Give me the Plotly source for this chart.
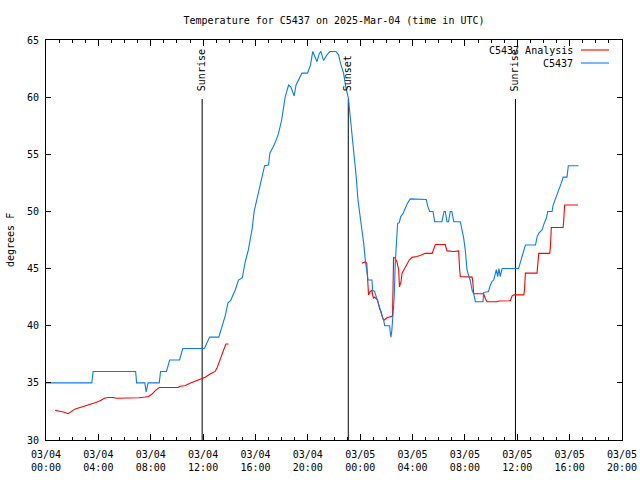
import plotly.graph_objects as go
import pandas as pd

BASE = pd.Timestamp("2025-03-04 00:00")

# C5437 observations: hours since 2025-03-04 00:00 UTC, temperature (F)
obs_hours = [0.0, 3.5, 3.6, 6.85, 6.92, 7.55, 7.65, 7.8, 8.65, 8.75, 9.2, 9.45, 10.2, 10.45, 12.1,
             12.5, 13.2, 13.7, 13.9, 14.1, 14.45, 14.7, 15.0, 15.2, 15.45, 15.6, 15.75, 15.9, 16.1,
             16.3, 16.5, 16.7, 17.0, 17.1, 17.33, 17.5, 17.76, 18.0, 18.27, 18.53, 18.7, 18.96,
             19.1, 19.3, 19.55, 19.98, 20.2, 20.38, 20.55, 20.7, 20.87, 21.0, 21.2, 21.46, 21.7,
             22.15, 22.35, 22.5, 22.73, 22.9, 23.1, 23.24, 23.32, 23.42, 23.5, 23.6, 23.7, 23.83,
             23.96, 24.1, 24.18, 24.27, 24.39, 24.52, 24.6, 24.9, 24.95, 25.1, 25.28, 25.4, 25.54,
             25.65, 25.79, 25.87, 26.25, 26.3, 26.35, 26.42, 26.5, 26.6, 26.68, 26.78, 26.86, 26.98,
             27.1, 27.27, 27.45, 27.6, 27.83, 29.05, 29.15, 29.3, 29.56, 29.69, 30.25, 30.4, 30.5,
             30.63, 30.75, 30.88, 31.0, 31.15, 31.65, 31.78, 31.9, 32.03, 32.1, 32.16, 32.28, 32.4,
             32.55, 32.67, 32.8, 33.38, 33.43, 33.8, 33.9, 34.05, 34.2, 34.4, 34.5, 34.6, 34.7,
             34.84, 36.1, 36.25, 36.37, 36.5, 36.62, 37.39, 37.52, 37.65, 37.9, 38.07, 38.22, 38.33,
             38.66, 38.74, 38.91, 39.04, 39.17, 39.35, 39.43, 39.5, 39.8, 39.9, 40.67]
obs_temp = [35, 35, 36, 36, 35, 35, 34.2, 35, 35, 36, 36, 37, 37, 38, 38,
            39, 39, 40.9, 42, 42.2, 43.1, 44, 44.2, 45.5, 46.6, 47.5, 48.5, 50, 51,
            52, 52.75, 54, 54.06, 55.1, 55.6, 56, 56.8, 58, 60, 61.06, 60.9, 60.1,
            61.06, 61.5, 62.1, 62.1, 62.8, 64, 63.5, 63.1, 63.8, 64, 63.2, 63.7, 64,
            64, 63.7, 62.95, 62.1, 60.9, 59.9, 58.3, 57.2, 56.3, 55.4, 54.3, 53, 51,
            49.8, 49, 48.1, 47.2, 45.75, 44.9, 44, 44, 43.1, 43, 42.4, 41.8, 41.4,
            40.9, 40.5, 40, 40, 39.4, 39, 39.6, 41.1, 42.5, 45.5, 47.5, 48.96, 49,
            49.55, 49.8, 50.4, 50.7, 51.1, 51.05, 50.5, 50, 50, 49.1, 49.1, 50, 50,
            49.1, 49.1, 50, 50, 49.1, 49.1, 48.5, 47.7, 46.6, 45.75, 44.9, 44.4, 44,
            43.1, 42.8, 42.1, 42.1, 42.9, 43, 43.4, 43.85, 44, 44.9, 44.3, 45, 44.3,
            45, 45, 45.6, 46, 46.5, 47.06, 47.06, 47.8, 48.1, 48.4, 49, 49.4, 50,
            50, 50.56, 51.06, 51.4, 51.9, 52.3, 52.7, 53, 53, 54, 54]

# C5437 Analysis (None = gap)
ana_hours = [0.69, 1.0, 1.33, 1.7, 1.95, 2.2, 2.6, 2.98, 3.36, 3.75, 4.13, 4.5, 4.77, 5.15, 5.4,
             6.93, 7.1, 7.57, 7.82, 8.08, 8.33, 8.66, 10.1, 10.24, 10.6, 11.0, 11.4, 11.9, 12.16,
             12.54, 12.92, 13.05, 13.3, 13.55, 13.74, 13.94, None,
             24.14, 24.39, 24.5, 24.57, 24.64, 24.77, 24.9, 24.95, 25.02, 25.1, 25.2, 25.33, 25.48,
             25.6, 25.74, 25.84, 26.05, 26.47, 26.55, 26.68, 26.8, 26.94, 27.0, 27.12, 27.2, 27.37,
             27.57, 27.75, 27.96, 28.34, 28.72, 28.97, 29.5, 29.61, 29.74, 30.5, 30.63, 31.14,
             31.52, 31.6, 31.65, 32.55, 32.6, 32.67, 33.43, 33.55, 33.69, 34.45, 34.6, 35.47, 35.6,
             35.75, 36.5, 36.55, 36.62, 37.51, 37.56, 37.64, 38.48, 38.53, 38.6, 39.5, 39.55,
             39.62, 40.65]
ana_temp = [32.6, 32.55, 32.45, 32.3, 32.5, 32.7, 32.85, 32.97, 33.15, 33.26, 33.44, 33.67, 33.72, 33.72, 33.65,
            33.65, 33.7, 33.76, 33.8, 34.0, 34.3, 34.6, 34.6, 34.7, 34.75, 34.96, 35.16, 35.34, 35.5,
            35.77, 36.0, 36.27, 37.0, 37.87, 38.4, 38.4, None,
            45.46, 45.6, 45.46, 44.3, 42.7, 43.0, 43.1, 42.7, 42.4, 42.5, 42.4, 42.25, 41.5,
            41.2, 40.6, 40.5, 40.7, 40.85, 46.0, 45.9, 45.6, 44.9, 43.4, 43.85, 44.6, 45.0,
            45.46, 45.75, 45.98, 46.05, 46.2, 46.33, 46.33, 46.77, 47.1, 47.1, 46.55, 46.5,
            46.55, 44.9, 44.3, 44.25, 43.85, 42.8, 42.8, 42.4, 42.1, 42.1, 42.16, 42.19, 42.6,
            42.7, 42.7, 43.1, 44.6, 44.6, 45.16, 46.33, 46.33, 46.9, 48.6, 48.6, 49.25,
            50.56, 50.56]

# Sun events (hours since base)
event_hours = [11.93, 23.09, 35.86]
event_names = ["Sunrise", "Sunset", "Sunrise"]

tick_hours = [0, 4, 8, 12, 16, 20, 24, 28, 32, 36, 40, 44]
tick_labels = ["03/04<br>00:00", "03/04<br>04:00", "03/04<br>08:00", "03/04<br>12:00",
               "03/04<br>16:00", "03/04<br>20:00", "03/05<br>00:00", "03/05<br>04:00",
               "03/05<br>08:00", "03/05<br>12:00", "03/05<br>16:00", "03/05<br>20:00"]
y_ticks = [30, 35, 40, 45, 50, 55, 60, 65]

series_names = ["C5437 Analysis", "C5437"]
series_colors = ["#ff0000", "#0a7cf2"]


def to_time(hours):
    return [None if h is None else BASE + pd.Timedelta(hours=h) for h in hours]


FONT = "DejaVu Sans Mono"
fig = go.Figure()
fig.add_trace(go.Scatter(x=to_time(ana_hours), y=ana_temp, mode="lines", name=series_names[0],
                         line=dict(color=series_colors[0], width=1.1), connectgaps=False,
                         showlegend=False))
fig.add_trace(go.Scatter(x=to_time(obs_hours), y=obs_temp, mode="lines", name=series_names[1],
                         line=dict(color=series_colors[1], width=1.1), showlegend=False))

shapes = []
annotations = []
for h, name in zip(event_hours, event_names):
    t = BASE + pd.Timedelta(hours=h)
    shapes.append(dict(type="line", xref="x", yref="paper", x0=t, x1=t, y0=0, y1=0.8525,
                       line=dict(color="black", width=1), layer="below"))
    annotations.append(dict(x=t, xref="x", y=(440 - 93) / 400, yref="paper", text=name,
                            textangle=-90, showarrow=False, xanchor="center", yanchor="bottom",
                            font=dict(family=FONT, size=10, color="black")))

# legend (gnuplot style: text then line sample)
leg_y = [(440 - 50) / 400, (440 - 63) / 400]
for name, col, yy in zip(series_names, series_colors, leg_y):
    annotations.append(dict(x=(575 - 46) / 576, xref="paper", y=yy, yref="paper", text=name,
                            showarrow=False, xanchor="right", yanchor="middle",
                            font=dict(family=FONT, size=10, color="black")))
    shapes.append(dict(type="line", xref="paper", yref="paper", x0=(581 - 46) / 576,
                       x1=(609 - 46) / 576, y0=yy, y1=yy, line=dict(color=col, width=1.1)))

annotations.append(dict(x=(10 - 46) / 576, xref="paper", y=0.5, yref="paper", text="degrees F",
                        textangle=-90, showarrow=False, xanchor="center", yanchor="middle",
                        font=dict(family=FONT, size=10, color="black")))

fig.update_layout(
    width=640, height=480,
    margin=dict(l=46, r=18, t=40, b=40, autoexpand=False),
    paper_bgcolor="white", plot_bgcolor="white",
    title=dict(text="Temperature for C5437 on 2025-Mar-04 (time in UTC)", x=0.5, xref="paper",
               xanchor="center", y=1 - 20 / 480, yanchor="middle",
               font=dict(family=FONT, size=10, color="black")),
    font=dict(family=FONT, size=10, color="black"),
    shapes=shapes, annotations=annotations, showlegend=False,
)
fig.update_xaxes(
    type="date", range=[BASE, BASE + pd.Timedelta(hours=44)], automargin=False,
    tickmode="array", tickvals=to_time(tick_hours), ticktext=tick_labels,
    ticks="inside", ticklen=6, tickcolor="black", tickwidth=1,
    showline=True, linecolor="black", linewidth=1, mirror="allticks",
    showgrid=False, zeroline=False, ticklabelstandoff=5,
    tickfont=dict(family=FONT, size=10, color="black"),
    minor=dict(tickmode="linear", tick0=BASE, dtick=3600000, ticks="inside", ticklen=3,
               tickcolor="black", showgrid=False),
)
fig.update_yaxes(
    range=[30, 65], tickmode="array", tickvals=y_ticks, automargin=False,
    ticks="inside", ticklen=5, tickcolor="black", tickwidth=1,
    showline=True, linecolor="black", linewidth=1, mirror="allticks",
    showgrid=False, zeroline=False, ticklabelstandoff=4,
    tickfont=dict(family=FONT, size=10, color="black"),
)

fig.write_html("out.html", config={"displayModeBar": False},
               post_script="document.body.style.margin='0px';")
